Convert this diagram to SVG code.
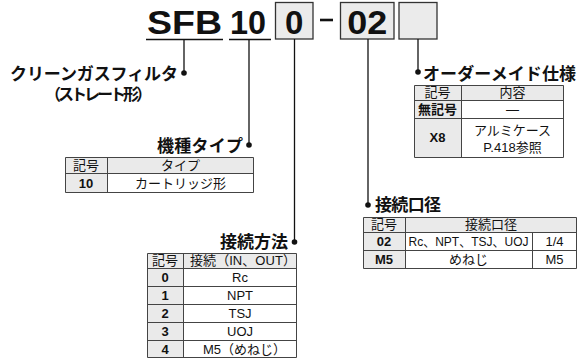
<svg xmlns="http://www.w3.org/2000/svg" width="585" height="364" viewBox="0 0 585 364">
<style>
text{font-family:"Liberation Sans","Noto Sans CJK JP",sans-serif;fill:#111}
.big{font-size:33px;font-weight:bold;text-anchor:middle}
.lbl{font-size:17px;font-weight:bold}
.t{font-size:13px;text-anchor:middle}
.s{text-anchor:start}
.b{font-weight:bold}
.box{fill:#ebebeb;stroke:#333;stroke-width:1.3}
.g{fill:#eaeaea}
.w{fill:#fff}
.grid{fill:none;stroke:#444;stroke-width:1}
.ln{stroke:#111;stroke-width:1.3;fill:none}
.dot{fill:#111}
</style>
<rect width="585" height="364" fill="#fff"/>

<g id="code">
  <text class="big" x="184.5" y="33.5" textLength="75" lengthAdjust="spacingAndGlyphs">SFB</text>
  <line class="ln" x1="146" y1="39.5" x2="223" y2="39.5"/>
  <text class="big" x="248" y="33.5" textLength="36" lengthAdjust="spacingAndGlyphs">10</text>
  <line class="ln" x1="229" y1="39.5" x2="271" y2="39.5"/>
  <rect class="box" x="275.5" y="2.5" width="37.5" height="36.5"/>
  <text class="big" x="294.2" y="33.5">0</text>
  <line x1="320" y1="20" x2="333" y2="20" stroke="#111" stroke-width="2.6"/>
  <rect class="box" x="340.5" y="2.5" width="53.5" height="36.5"/>
  <text class="big" x="367.2" y="33.5" textLength="40" lengthAdjust="spacingAndGlyphs">02</text>
  <rect class="box" x="399" y="2.5" width="38" height="36.5"/>
</g>

<g id="connectors">
  <line class="ln" x1="184" y1="40" x2="184" y2="73"/>
  <circle class="dot" cx="184" cy="73" r="2.8"/>
  <line class="ln" x1="249" y1="40" x2="249" y2="145"/>
  <circle class="dot" cx="249" cy="145" r="2.8"/>
  <line class="ln" x1="294.5" y1="39" x2="294.5" y2="242"/>
  <circle class="dot" cx="294.5" cy="242" r="2.8"/>
  <line class="ln" x1="368" y1="39" x2="368" y2="205"/>
  <circle class="dot" cx="368" cy="205" r="2.8"/>
  <line class="ln" x1="418" y1="39" x2="418" y2="72"/>
  <circle class="dot" cx="418" cy="72" r="2.8"/>
</g>

<g id="series">
  <text class="lbl" x="10" y="80" textLength="168" lengthAdjust="spacing">クリーンガスフィルタ</text>
  <text class="lbl" x="45" y="100" style="font-size:16px" textLength="107" lengthAdjust="spacing">（ストレート形）</text>
</g>

<g id="model-type">
  <text class="lbl" x="157" y="152" textLength="86" lengthAdjust="spacing">機種タイプ</text>
  <rect class="g" x="65" y="157" width="189" height="16"/>
  <rect class="g" x="65" y="173" width="42" height="20"/>
  <rect class="w" x="107" y="173" width="147" height="20"/>
  <path class="grid" d="M65.5 157.5H253.5V192.5H65.5Z M65.5 173.5H253.5 M107.5 157.5V192.5"/>
  <text class="t" x="86" y="169.5">記号</text>
  <text class="t" x="180.5" y="169.5">タイプ</text>
  <text class="t b" x="86" y="187.5">10</text>
  <text class="t" x="180.5" y="187.5">カートリッジ形</text>
</g>

<g id="connection-method">
  <text class="lbl" x="220" y="248" textLength="68" lengthAdjust="spacing">接続方法</text>
  <rect class="g" x="147" y="253" width="150" height="15"/>
  <rect class="g" x="147" y="268" width="36" height="90"/>
  <rect class="w" x="183" y="268" width="114" height="90"/>
  <path class="grid" d="M147.5 253.5H296.5V357.5H147.5Z M147.5 268.5H296.5 M147.5 286.5H296.5 M147.5 304.5H296.5 M147.5 322.5H296.5 M147.5 340.5H296.5 M183.5 253.5V357.5"/>
  <text class="t" x="165" y="265">記号</text>
  <text class="t s" x="190" y="265" textLength="106" lengthAdjust="spacing">接続（IN、OUT）</text>
  <text class="t b" x="165" y="281.5">0</text>
  <text class="t" x="240" y="281.5">Rc</text>
  <text class="t b" x="165" y="299.5">1</text>
  <text class="t" x="240" y="299.5">NPT</text>
  <text class="t b" x="165" y="317.5">2</text>
  <text class="t" x="240" y="317.5">TSJ</text>
  <text class="t b" x="165" y="335.5">3</text>
  <text class="t" x="240" y="335.5">UOJ</text>
  <text class="t b" x="165" y="353.5">4</text>
  <text class="t s" x="203" y="353.5">M5（めねじ）</text>
</g>

<g id="port-size">
  <text class="lbl" x="375" y="211" textLength="66" lengthAdjust="spacing">接続口径</text>
  <rect class="g" x="363" y="217" width="214" height="15"/>
  <rect class="g" x="363" y="232" width="42" height="37"/>
  <rect class="w" x="405" y="232" width="172" height="37"/>
  <path class="grid" d="M363.5 217.5H576.5V268.5H363.5Z M363.5 232.5H576.5 M363.5 250.5H576.5 M405.5 217.5V268.5 M532.5 232.5V268.5"/>
  <text class="t" x="384" y="229">記号</text>
  <text class="t" x="491" y="229">接続口径</text>
  <text class="t b" x="384" y="245.5">02</text>
  <text class="t" x="468.5" y="245.5" textLength="120" lengthAdjust="spacingAndGlyphs">Rc、NPT、TSJ、UOJ</text>
  <text class="t" x="554.5" y="245.5">1/4</text>
  <text class="t b" x="384" y="264">M5</text>
  <text class="t" x="468.5" y="264">めねじ</text>
  <text class="t" x="554.5" y="264">M5</text>
</g>

<g id="made-to-order">
  <text class="lbl" x="423" y="80" textLength="153" lengthAdjust="spacing">オーダーメイド仕様</text>
  <rect class="g" x="414" y="85" width="150" height="15"/>
  <rect class="g" x="414" y="100" width="47" height="57"/>
  <rect class="w" x="461" y="100" width="103" height="57"/>
  <path class="grid" d="M414.5 85.5H563.5V157.5H414.5Z M414.5 100.5H563.5 M414.5 118.5H563.5 M461.5 85.5V157.5"/>
  <text class="t" x="437.5" y="97">記号</text>
  <text class="t" x="512.5" y="97">内容</text>
  <text class="t b" x="437.5" y="113.5">無記号</text>
  <text class="t" x="512.5" y="113.5">―</text>
  <text class="t b" x="437.5" y="142">X8</text>
  <text class="t" x="512.5" y="135">アルミケース</text>
  <text class="t" x="512.5" y="152">P.418参照</text>
</g>
</svg>
